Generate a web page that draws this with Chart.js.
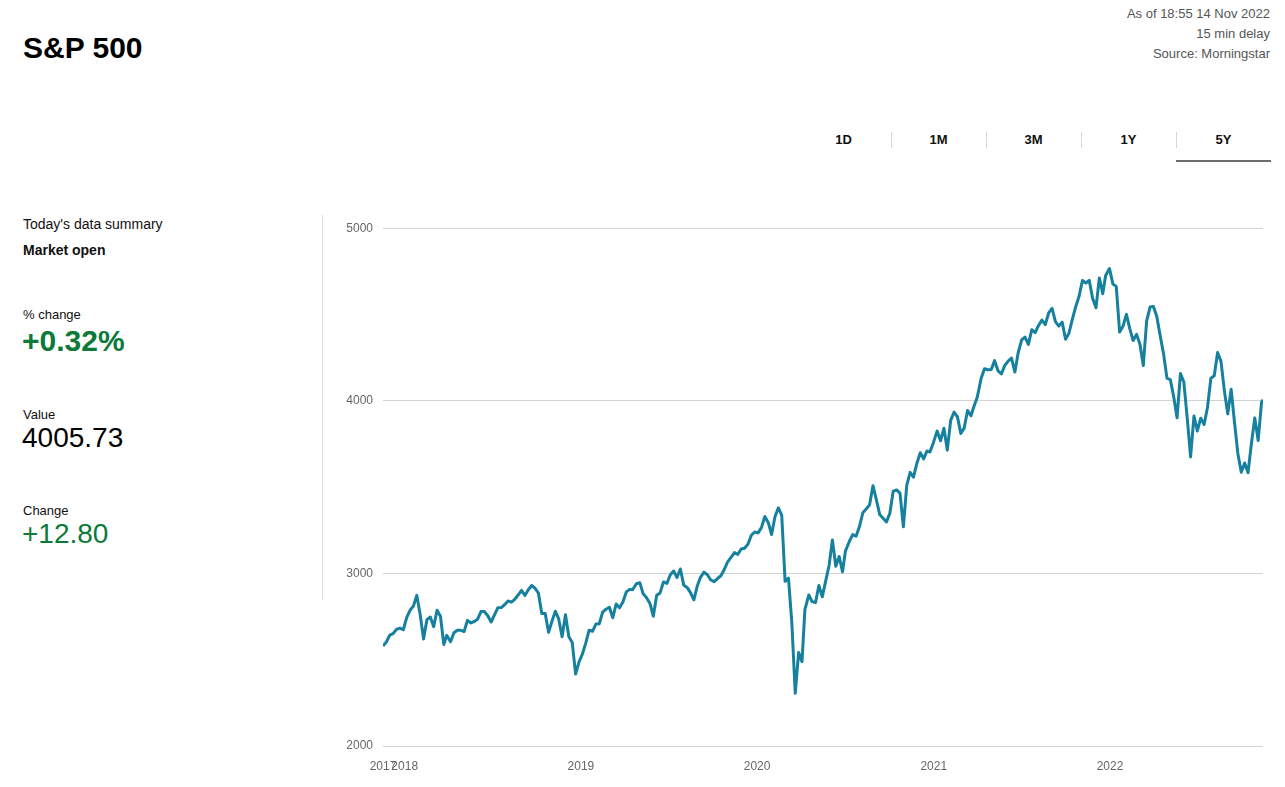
<!DOCTYPE html>
<html>
<head>
<meta charset="utf-8">
<title>S&amp;P 500</title>
<script src="https://cdn.jsdelivr.net/npm/chart.js@4.4.0/dist/chart.umd.min.js"></script>
<style>
    html, body {
        margin: 0;
        padding: 0;
        background: #ffffff;
        font-family: Arial, "Liberation Sans", sans-serif;
        color: #111;
    }
    .abs { position: absolute; white-space: nowrap; }
    .title { left: 23px; top: 30px; font-size: 30px; font-weight: bold; line-height: 36px; color: #000; }
    .meta { right: 15px; font-size: 13px; line-height: 20px; color: #555; text-align: right; }
    .tabs { left: 796px; top: 128px; width: 475px; height: 36px; display: flex; }
    .tab { width: 95px; text-align: center; font-size: 13px; font-weight: bold; line-height: 24px; position: relative; color: #111; }
    .tab + .tab::before { content: ""; position: absolute; left: 0; top: 4px; height: 16px; border-left: 1px solid #d6d6d6; }
    .tab.active::after { content: ""; position: absolute; left: 0; right: 0; top: 32px; height: 2px; background: #6b6b6b; }
    .label { left: 23px; font-size: 13px; line-height: 18px; color: #111; }
    .big { left: 22px; font-size: 28px; line-height: 32px; }
    .green { color: #0b7a38; }
    .divider { left: 322px; top: 215px; height: 385px; border-left: 1px solid #dcdcdc; }
    #chartBox { position: absolute; left: 330px; top: 211px; width: 935px; height: 565px; }
</style>
</head>
<body>

<div class="abs title">S&amp;P 500</div>
<div class="abs meta" style="top:4px">As of 18:55 14 Nov 2022</div>
<div class="abs meta" style="top:24px">15 min delay</div>
<div class="abs meta" style="top:44px">Source: Morningstar</div>

<div class="abs tabs">
    <div class="tab">1D</div>
    <div class="tab">1M</div>
    <div class="tab">3M</div>
    <div class="tab">1Y</div>
    <div class="tab active">5Y</div>
</div>

<div class="abs label" style="top:215px;font-size:14px">Today's data summary</div>
<div class="abs label" style="top:241px;font-size:14px;font-weight:bold">Market open</div>
<div class="abs label" style="top:306px">% change</div>
<div class="abs big green" style="top:325px;font-size:30px;font-weight:bold">+0.32%</div>
<div class="abs label" style="top:406px">Value</div>
<div class="abs big" style="top:422px;color:#000">4005.73</div>
<div class="abs label" style="top:502px">Change</div>
<div class="abs big green" style="top:518px">+12.80</div>

<div class="abs divider"></div>

<div id="chartBox"><canvas id="priceChart"></canvas></div>

<script>
/**
 * S&P 500 5Y chart
 *
 * Purpose: 주간 종가 라인 차트 (Chart.js)
 */

// 주간 날짜 (주말 기준 종가일)
const weekDates = [
    '2017-11-17', '2017-11-24', '2017-12-01', '2017-12-08', '2017-12-15', '2017-12-22', '2017-12-29',
    // 2018
    '2018-01-05', '2018-01-12', '2018-01-19', '2018-01-26', '2018-02-02', '2018-02-09', '2018-02-16', '2018-02-23',
    '2018-03-02', '2018-03-09', '2018-03-16', '2018-03-23', '2018-03-29', '2018-04-06', '2018-04-13', '2018-04-20', '2018-04-27',
    '2018-05-04', '2018-05-11', '2018-05-18', '2018-05-25', '2018-06-01', '2018-06-08', '2018-06-15', '2018-06-22', '2018-06-29',
    '2018-07-06', '2018-07-13', '2018-07-20', '2018-07-27', '2018-08-03', '2018-08-10', '2018-08-17', '2018-08-24', '2018-08-31',
    '2018-09-07', '2018-09-14', '2018-09-21', '2018-09-28', '2018-10-05', '2018-10-12', '2018-10-19', '2018-10-26',
    '2018-11-02', '2018-11-09', '2018-11-16', '2018-11-23', '2018-11-30', '2018-12-07', '2018-12-14', '2018-12-21', '2018-12-28',
    // 2019
    '2019-01-04', '2019-01-11', '2019-01-18', '2019-01-25', '2019-02-01', '2019-02-08', '2019-02-15', '2019-02-22',
    '2019-03-01', '2019-03-08', '2019-03-15', '2019-03-22', '2019-03-29', '2019-04-05', '2019-04-12', '2019-04-18', '2019-04-26',
    '2019-05-03', '2019-05-10', '2019-05-17', '2019-05-24', '2019-05-31', '2019-06-07', '2019-06-14', '2019-06-21', '2019-06-28',
    '2019-07-05', '2019-07-12', '2019-07-19', '2019-07-26', '2019-08-02', '2019-08-09', '2019-08-16', '2019-08-23', '2019-08-30',
    '2019-09-06', '2019-09-13', '2019-09-20', '2019-09-27', '2019-10-04', '2019-10-11', '2019-10-18', '2019-10-25',
    '2019-11-01', '2019-11-08', '2019-11-15', '2019-11-22', '2019-11-29', '2019-12-06', '2019-12-13', '2019-12-20', '2019-12-27',
    // 2020
    '2020-01-03', '2020-01-10', '2020-01-17', '2020-01-24', '2020-01-31', '2020-02-07', '2020-02-14', '2020-02-21', '2020-02-28',
    '2020-03-06', '2020-03-13', '2020-03-20', '2020-03-27', '2020-04-03', '2020-04-09', '2020-04-17', '2020-04-24',
    '2020-05-01', '2020-05-08', '2020-05-15', '2020-05-22', '2020-05-29', '2020-06-05', '2020-06-12', '2020-06-19', '2020-06-26',
    '2020-07-02', '2020-07-10', '2020-07-17', '2020-07-24', '2020-07-31', '2020-08-07', '2020-08-14', '2020-08-21', '2020-08-28',
    '2020-09-04', '2020-09-11', '2020-09-18', '2020-09-25', '2020-10-02', '2020-10-09', '2020-10-16', '2020-10-23', '2020-10-30',
    '2020-11-06', '2020-11-13', '2020-11-20', '2020-11-27', '2020-12-04', '2020-12-11', '2020-12-18', '2020-12-24', '2020-12-31',
    // 2021
    '2021-01-08', '2021-01-15', '2021-01-22', '2021-01-29', '2021-02-05', '2021-02-12', '2021-02-19', '2021-02-26',
    '2021-03-05', '2021-03-12', '2021-03-19', '2021-03-26', '2021-04-01', '2021-04-09', '2021-04-16', '2021-04-23', '2021-04-30',
    '2021-05-07', '2021-05-14', '2021-05-21', '2021-05-28', '2021-06-04', '2021-06-11', '2021-06-18', '2021-06-25',
    '2021-07-02', '2021-07-09', '2021-07-16', '2021-07-23', '2021-07-30', '2021-08-06', '2021-08-13', '2021-08-20', '2021-08-27',
    '2021-09-03', '2021-09-10', '2021-09-17', '2021-09-24', '2021-10-01', '2021-10-08', '2021-10-15', '2021-10-22', '2021-10-29',
    '2021-11-05', '2021-11-12', '2021-11-19', '2021-11-26', '2021-12-03', '2021-12-10', '2021-12-17', '2021-12-23', '2021-12-31',
    // 2022
    '2022-01-07', '2022-01-14', '2022-01-21', '2022-01-28', '2022-02-04', '2022-02-11', '2022-02-18', '2022-02-25',
    '2022-03-04', '2022-03-11', '2022-03-18', '2022-03-25', '2022-04-01', '2022-04-08', '2022-04-14', '2022-04-22', '2022-04-29',
    '2022-05-06', '2022-05-13', '2022-05-20', '2022-05-27', '2022-06-03', '2022-06-10', '2022-06-17', '2022-06-24',
    '2022-07-01', '2022-07-08', '2022-07-15', '2022-07-22', '2022-07-29', '2022-08-05', '2022-08-12', '2022-08-19', '2022-08-26',
    '2022-09-02', '2022-09-09', '2022-09-16', '2022-09-23', '2022-09-30', '2022-10-07', '2022-10-14', '2022-10-21', '2022-10-28',
    '2022-11-04', '2022-11-11', '2022-11-14',
];

// 종가 (weekDates 와 같은 줄 구성)
const closeValues = [
    2578.85, 2602.42, 2642.22, 2651.50, 2675.81, 2683.34, 2673.61,
    // 2018
    2743.15, 2786.24, 2810.30, 2872.87, 2762.13, 2619.55, 2732.22, 2747.30,
    2691.25, 2786.57, 2752.01, 2588.26, 2640.87, 2604.47, 2656.30, 2670.14, 2669.91,
    2663.42, 2727.72, 2712.97, 2721.33, 2734.62, 2779.03, 2779.42, 2754.88, 2718.37,
    2759.82, 2801.31, 2801.83, 2818.82, 2840.35, 2833.28, 2850.13, 2874.69, 2901.52,
    2871.68, 2904.98, 2929.67, 2913.98, 2885.57, 2767.13, 2767.78, 2658.69,
    2723.06, 2781.01, 2736.27, 2632.56, 2760.17, 2633.08, 2599.95, 2416.62, 2485.74,
    // 2019
    2531.94, 2596.26, 2670.71, 2664.76, 2706.53, 2707.88, 2775.60, 2792.67,
    2803.69, 2743.07, 2822.48, 2800.71, 2834.40, 2892.74, 2907.41, 2905.03, 2939.88,
    2945.64, 2881.40, 2859.53, 2826.06, 2752.06, 2873.34, 2886.98, 2950.46, 2941.76,
    2990.41, 3013.77, 2976.61, 3025.86, 2932.05, 2918.65, 2888.68, 2847.11, 2926.46,
    2978.71, 3007.39, 2992.07, 2961.79, 2952.01, 2970.27, 2986.20, 3022.55,
    3066.91, 3093.08, 3120.46, 3110.29, 3140.98, 3145.91, 3168.80, 3221.22, 3240.02,
    // 2020
    3234.85, 3265.35, 3329.62, 3295.47, 3225.52, 3327.71, 3380.16, 3337.75, 2954.22,
    2972.37, 2711.02, 2304.92, 2541.47, 2488.65, 2789.82, 2874.56, 2836.74,
    2830.71, 2929.80, 2863.70, 2955.45, 3044.31, 3193.93, 3041.31, 3097.74, 3009.05,
    3130.01, 3185.04, 3224.73, 3215.63, 3271.12, 3351.28, 3372.85, 3397.16, 3508.01,
    3426.96, 3340.97, 3319.47, 3298.46, 3348.44, 3477.13, 3483.81, 3465.39, 3269.96,
    3509.44, 3585.15, 3557.54, 3638.35, 3699.12, 3663.46, 3709.41, 3703.06, 3756.07,
    // 2021
    3824.68, 3768.25, 3841.47, 3714.24, 3886.83, 3934.83, 3906.71, 3811.15,
    3841.94, 3943.34, 3913.10, 3974.54, 4019.87, 4128.80, 4185.47, 4180.17, 4181.17,
    4232.60, 4173.85, 4155.86, 4204.11, 4229.89, 4247.44, 4166.45, 4280.70,
    4352.34, 4369.55, 4327.16, 4411.79, 4395.26, 4436.52, 4468.00, 4441.67, 4509.37,
    4535.43, 4458.58, 4432.99, 4455.48, 4357.04, 4391.34, 4471.37, 4544.90, 4605.38,
    4697.53, 4682.85, 4697.96, 4594.62, 4538.43, 4712.02, 4620.64, 4725.79, 4766.18,
    // 2022
    4677.03, 4662.85, 4397.94, 4431.85, 4500.53, 4418.64, 4348.87, 4384.65,
    4328.87, 4204.31, 4463.12, 4543.06, 4545.86, 4488.28, 4392.59, 4271.78, 4131.93,
    4123.34, 4023.89, 3901.36, 4158.24, 4108.54, 3900.86, 3674.84, 3911.74,
    3825.33, 3899.38, 3863.16, 3961.63, 4130.29, 4145.19, 4280.15, 4228.48, 4057.66,
    3924.26, 4067.36, 3873.33, 3693.23, 3585.62, 3639.66, 3583.07, 3752.75, 3901.06,
    3770.55, 3992.93, 4005.73,
];

// x축 눈금 (연도)
const yearTickDates = ['2017-11-17', '2018-01-01', '2019-01-01', '2020-01-01', '2021-01-01', '2022-01-01'];
const yearTickLabels = ['2017', '2018', '2019', '2020', '2021', '2022'];

// y축 범위
const yAxisMin = 2000;
const yAxisMax = 5000;
const yAxisStep = 1000;

const COLORS = {
    line: '#16809f',
    grid: '#d3d3d3',
    text: '#666666',
};

Chart.defaults.font.family = 'Arial, "Liberation Sans", sans-serif';

/**
 * 데이터 포인트 만들기
 *
 * @returns {Array} [{x, y}]
 */
function buildPoints() {
    return weekDates.map((d, i) => ({ x: Date.parse(d), y: closeValues[i] }));
}

/**
 * 차트 옵션
 *
 * @returns {object} Chart.js 옵션
 */
function getChartOptions() {
    const tickValues = yearTickDates.map(d => Date.parse(d));

    return {
        responsive: true,
        maintainAspectRatio: false,
        animation: false,
        layout: {
            padding: { top: 9, right: 2, left: 0, bottom: 0 },
        },
        plugins: {
            legend: { display: false },
            tooltip: { enabled: false },
        },
        scales: {
            x: {
                type: 'linear',
                min: Date.parse(weekDates[0]),
                max: Date.parse(weekDates[weekDates.length - 1]),
                afterBuildTicks: (scale) => {
                    scale.ticks = tickValues.map(v => ({ value: v }));
                },
                afterFit: (scale) => {
                    scale.height = 30;
                },
                ticks: {
                    autoSkip: false,
                    maxRotation: 0,
                    color: COLORS.text,
                    font: { size: 12 },
                    padding: 13,
                    callback: (value, index) => yearTickLabels[index],
                },
                grid: { display: false, drawTicks: false },
                border: { display: false },
            },
            y: {
                min: yAxisMin,
                max: yAxisMax,
                afterFit: (scale) => {
                    scale.width = 53;
                },
                ticks: {
                    stepSize: yAxisStep,
                    color: COLORS.text,
                    font: { size: 12 },
                    padding: 10,
                    callback: (value) => String(value),
                },
                grid: { color: COLORS.grid, drawTicks: false },
                border: { display: false },
            },
        },
    };
}

/**
 * 차트 초기화
 */
function initChart(canvasId) {
    const ctx = document.getElementById(canvasId).getContext('2d');

    return new Chart(ctx, {
        type: 'line',
        data: {
            datasets: [{
                label: 'S&P 500',
                data: buildPoints(),
                borderColor: COLORS.line,
                borderWidth: 3,
                borderJoinStyle: 'round',
                pointRadius: 0,
                tension: 0,
                fill: false,
            }],
        },
        options: getChartOptions(),
    });
}

initChart('priceChart');
</script>
</body>
</html>
